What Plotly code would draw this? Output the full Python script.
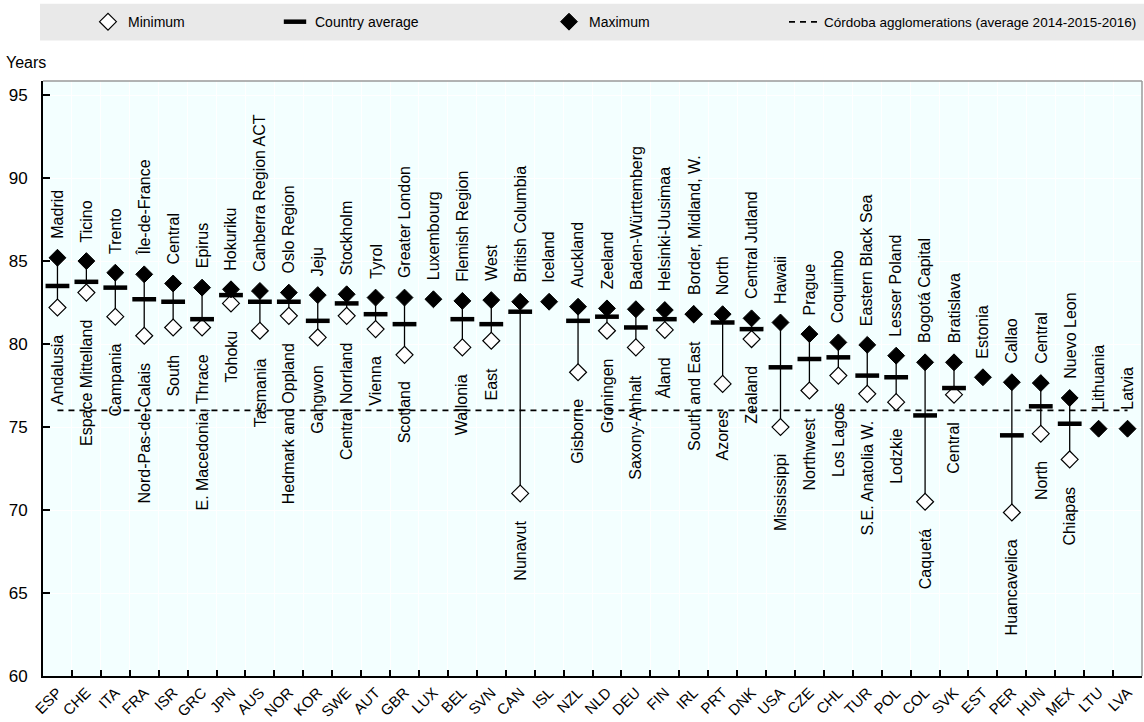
import plotly.graph_objects as go

# ---------------- data ----------------
countries = ["ESP", "CHE", "ITA", "FRA", "ISR", "GRC", "JPN", "AUS", "NOR", "KOR",
             "SWE", "AUT", "GBR", "LUX", "BEL", "SVN", "CAN", "ISL", "NZL", "NLD",
             "DEU", "FIN", "IRL", "PRT", "DNK", "USA", "CZE", "CHL", "TUR", "POL",
             "COL", "SVK", "EST", "PER", "HUN", "MEX", "LTU", "LVA"]

max_region = ["Madrid", "Ticino", "Trento", "Île-de-France", "Central", "Epirus", "Hokuriku",
              "Canberra Region ACT", "Oslo Region", "Jeju", "Stockholm", "Tyrol", "Greater London",
              "Luxembourg", "Flemish Region", "West", "British Columbia", "Iceland", "Auckland",
              "Zeeland", "Baden-Württemberg", "Helsinki-Uusimaa", "Border, Midland, W.", "North",
              "Central Jutland", "Hawaii", "Prague", "Coquimbo", "Eastern Black Sea", "Lesser Poland",
              "Bogotá Capital", "Bratislava", "Estonia", "Callao", "Central", "Nuevo Leon",
              "Lithuania", "Latvia"]

min_region = ["Andalusia", "Espace Mittelland", "Campania", "Nord-Pas-de-Calais", "South",
              "E. Macedonia, Thrace", "Tohoku", "Tasmania", "Hedmark and Oppland", "Gangwon",
              "Central Norrland", "Vienna", "Scotland", None, "Wallonia", "East", "Nunavut", None,
              "Gisborne", "Groningen", "Saxony-Anhalt", "Åland", "South and East", "Azores",
              "Zealand", "Mississippi", "Northwest", "Los Lagos", "S.E. Anatolia W.", "Lodzkie",
              "Caquetá", "Central", None, "Huancavelica", "North", "Chiapas", None, None]

max_val = [85.2, 85.0, 84.3, 84.2, 83.65, 83.4, 83.3, 83.2, 83.1, 82.95,
           83.0, 82.8, 82.8, 82.7, 82.6, 82.65, 82.55, 82.55, 82.25, 82.15,
           82.1, 82.05, 81.8, 81.8, 81.55, 81.3, 80.6, 80.1, 79.95, 79.3,
           78.9, 78.9, 78.0, 77.7, 77.65, 76.75, 74.9, 74.9]

avg_val = [83.5, 83.75, 83.4, 82.7, 82.55, 81.5, 82.95, 82.55, 82.55, 81.4,
           82.45, 81.8, 81.2, None, 81.5, 81.2, 81.95, None, 81.4, 81.65,
           81.0, 81.5, None, 81.3, 80.9, 78.6, 79.1, 79.2, 78.1, 78.0,
           75.7, 77.35, None, 74.5, 76.25, 75.2, None, None]

min_val = [82.2, 83.1, 81.65, 80.5, 81.0, 81.0, 82.45, 80.8, 81.7, 80.4,
           81.7, 80.9, 79.35, None, 79.8, 80.2, 71.0, None, 78.3, 80.8,
           79.8, 80.85, 81.8, 77.6, 80.3, 75.0, 77.2, 78.1, 77.0, 76.5,
           70.5, 76.95, None, 69.85, 74.6, 73.05, None, None]

cordoba_val = 76.0

y_ticks = [60, 65, 70, 75, 80, 85, 90, 95]

# ---------------- figure ----------------
W, H = 1144, 722
ML, MR, MT, MB = 43, 2, 81, 40
PW, PH = W - ML - MR, H - MT - MB

def px_to_paper_x(px):
    return (px - ML) / PW

def px_to_paper_y(py):
    return (H - MB - py) / PH

FONT = "Liberation Sans, Arial, sans-serif"

fig = go.Figure()

# range lines
lx, ly = [], []
for c, lo, hi in zip(countries, min_val, max_val):
    if lo is not None and hi is not None:
        lx += [c, c, None]
        ly += [lo, hi, None]
fig.add_trace(go.Scatter(x=lx, y=ly, mode="lines", line=dict(color="black", width=1.3),
                         showlegend=False, hoverinfo="skip"))

# Córdoba reference line
fig.add_trace(go.Scatter(x=[countries[0], countries[-1]], y=[cordoba_val, cordoba_val],
                         mode="lines", line=dict(color="black", width=1.8, dash="6px,5px"),
                         name="Córdoba agglomerations (average 2014-2015-2016)", legend="legend4"))

# minimum
fig.add_trace(go.Scatter(x=countries, y=min_val, mode="markers", name="Minimum",
                         marker=dict(symbol="diamond", size=13, color="white",
                                     line=dict(color="black", width=1.2)),
                         legend="legend"))
# country average
fig.add_trace(go.Scatter(x=countries, y=avg_val, mode="markers", name="Country average",
                         marker=dict(symbol="line-ew", size=17, color="black",
                                     line=dict(color="black", width=4.5)),
                         legend="legend2"))
# maximum
fig.add_trace(go.Scatter(x=countries, y=max_val, mode="markers", name="Maximum",
                         marker=dict(symbol="diamond", size=13, color="black",
                                     line=dict(color="black", width=1)),
                         legend="legend3"))

# region labels
ann = []
for c, r, v in zip(countries, max_region, max_val):
    if r:
        ann.append(dict(x=c, y=v, xref="x", yref="y", text=r, textangle=-90, showarrow=False,
                        yanchor="bottom", xanchor="center", yshift=17,
                        font=dict(family=FONT, size=16, color="black")))
for c, r, v in zip(countries, min_region, min_val):
    if r and v is not None:
        ann.append(dict(x=c, y=v, xref="x", yref="y", text=r, textangle=-90, showarrow=False,
                        yanchor="top", xanchor="center", yshift=-25,
                        font=dict(family=FONT, size=16, color="black")))
# y-axis title
ann.append(dict(x=px_to_paper_x(4), y=px_to_paper_y(62), xref="paper", yref="paper", text="Years",
                showarrow=False, xanchor="left", yanchor="middle",
                font=dict(family=FONT, size=16, color="black")))

shapes = [
    # legend background box
    dict(type="rect", xref="paper", yref="paper", x0=px_to_paper_x(40), x1=px_to_paper_x(1144),
         y0=px_to_paper_y(40), y1=px_to_paper_y(3), fillcolor="#e9e9e9", line=dict(width=0),
         layer="below"),
    # top / right border
    dict(type="line", xref="paper", yref="paper", x0=0, x1=1, y0=1, y1=1,
         line=dict(color="#9a9a9a", width=1.5)),
    dict(type="line", xref="paper", yref="paper", x0=1, x1=1, y0=0, y1=1,
         line=dict(color="#9a9a9a", width=1.5)),
]

leg_common = dict(orientation="h", bgcolor="rgba(0,0,0,0)", borderwidth=0,
                  yanchor="middle", y=px_to_paper_y(21.5),
                  font=dict(family=FONT, size=14, color="black"))

fig.update_layout(
    width=W, height=H,
    margin=dict(l=ML, r=MR, t=MT, b=MB),
    paper_bgcolor="white",
    plot_bgcolor="#f3ffff",
    font=dict(family=FONT, color="black"),
    annotations=ann,
    shapes=shapes,
    legend=dict(x=px_to_paper_x(88), xanchor="left", **leg_common),
    legend2=dict(x=px_to_paper_x(275), xanchor="left", **leg_common),
    legend3=dict(x=px_to_paper_x(549), xanchor="left", **leg_common),
    legend4=dict(x=px_to_paper_x(1142), xanchor="right",
                 **{**leg_common, "font": dict(family=FONT, size=13.5, color="black")}),
    xaxis=dict(type="category", categoryorder="array", categoryarray=countries,
               range=[-0.5, len(countries) - 0.5], tickson="boundaries",
               showgrid=True, gridcolor="white", gridwidth=1,
               ticks="inside", ticklen=6, tickwidth=1.5, tickcolor="black",
               tickangle=-45, tickfont=dict(family=FONT, size=15, color="black"),
               showline=True, linecolor="black", linewidth=2, zeroline=False),
    yaxis=dict(range=[60, 95.85], tickvals=y_ticks,
               showgrid=True, gridcolor="white", gridwidth=1,
               ticks="inside", ticklen=7, tickwidth=1.5, tickcolor="black",
               ticklabelstandoff=10,
               tickfont=dict(family=FONT, size=17, color="black"),
               showline=True, linecolor="black", linewidth=2, zeroline=False),
)

fig.write_html("out.html")
